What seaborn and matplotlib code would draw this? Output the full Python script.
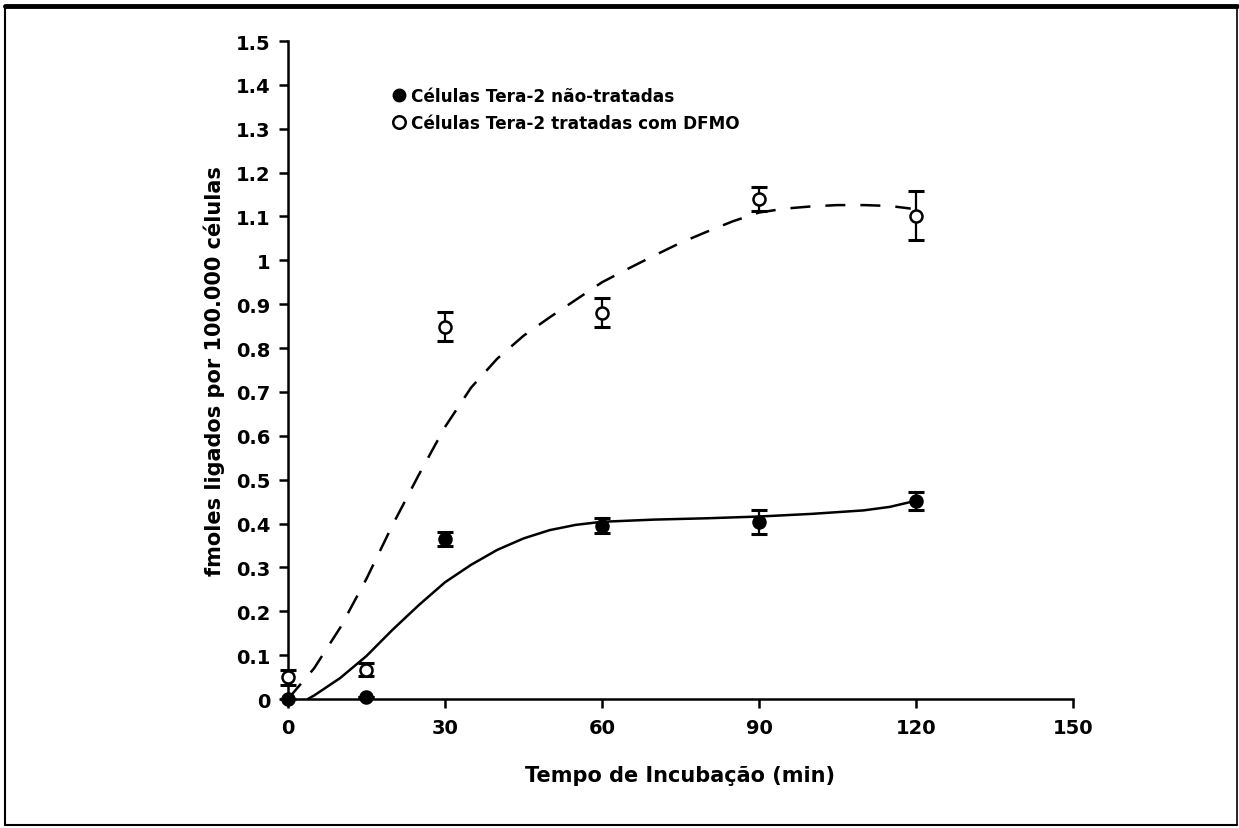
import numpy as np
import pandas as pd
import matplotlib
matplotlib.use("Agg")
import matplotlib.pyplot as plt
from matplotlib.lines import Line2D
import seaborn as sns

# measured points (min, fmoles / 100.000 cells)
tempos = [0, 15, 30, 60, 90, 120]
nao_tratadas = [0.0, 0.005, 0.365, 0.395, 0.403, 0.452]
nao_tratadas_err = [0.0, 0.0, 0.016, 0.017, 0.027, 0.02]
dfmo = [0.05, 0.067, 0.849, 0.881, 1.14, 1.102]
dfmo_err = [0.017, 0.015, 0.033, 0.033, 0.027, 0.055]

# fitted curves
curva_nt_x = [3.8, 5, 10, 15, 20, 25, 30, 35, 40, 45, 50, 55, 60, 70, 80, 90, 100, 110, 115, 120]
curva_nt_y = [0.0, 0.008, 0.048, 0.098, 0.158, 0.214, 0.266, 0.306, 0.34, 0.366, 0.385, 0.397,
              0.404, 0.409, 0.412, 0.416, 0.422, 0.43, 0.438, 0.452]
curva_dfmo_x = [0, 5, 10, 15, 20, 25, 30, 35, 40, 45, 50, 55, 60, 65, 70, 75, 80, 85, 90,
                95, 100, 105, 110, 115, 119]
curva_dfmo_y = [0.0, 0.07, 0.163, 0.274, 0.397, 0.511, 0.62, 0.71, 0.776, 0.828, 0.87, 0.91,
                0.95, 0.981, 1.011, 1.04, 1.065, 1.089, 1.109, 1.118, 1.123, 1.126, 1.126,
                1.124, 1.118]

x_ticks = [0, 30, 60, 90, 120, 150]
y_ticks = [0, 0.1, 0.2, 0.3, 0.4, 0.5, 0.6, 0.7, 0.8, 0.9, 1.0, 1.1, 1.2, 1.3, 1.4, 1.5]
y_tick_labels = ["0", "0.1", "0.2", "0.3", "0.4", "0.5", "0.6", "0.7", "0.8", "0.9",
                 "1", "1.1", "1.2", "1.3", "1.4", "1.5"]
legenda = ["Células Tera-2 não-tratadas", "Células Tera-2 tratadas com DFMO"]

sns.set_style("ticks")
plt.rcParams['font.family'] = ['DejaVu Sans']
plt.rcParams['font.weight'] = 'bold'
plt.rcParams['text.color'] = 'black'
plt.rcParams['axes.labelcolor'] = 'black'
plt.rcParams['xtick.color'] = 'black'
plt.rcParams['ytick.color'] = 'black'

fig = plt.figure(figsize=(12.39, 8.29), dpi=100)
ax = fig.add_axes([0.2324, 0.1556, 0.6336, 0.7937])

sns.lineplot(x=curva_nt_x, y=curva_nt_y, ax=ax, color="black", lw=1.8, sort=False)
sns.lineplot(x=curva_dfmo_x, y=curva_dfmo_y, ax=ax, color="black", lw=1.8, sort=False,
             linestyle=(0, (8, 6)))

ax.errorbar(tempos, nao_tratadas, yerr=nao_tratadas_err, fmt="none", ecolor="black",
            elinewidth=1.6, capsize=6, capthick=2.2, clip_on=False)
ax.errorbar(tempos, dfmo, yerr=dfmo_err, fmt="none", ecolor="black",
            elinewidth=1.6, capsize=6, capthick=2.2, clip_on=False)
sns.scatterplot(x=tempos, y=nao_tratadas, ax=ax, color="black", s=80, edgecolor="black",
                linewidth=1.5, zorder=5, clip_on=False)
sns.scatterplot(x=tempos, y=dfmo, ax=ax, color="white", s=75, edgecolor="black",
                linewidth=1.8, zorder=5, clip_on=False)

ax.set_xlim(0, 150)
ax.set_ylim(0, 1.5)
ax.set_xticks(x_ticks)
ax.set_xticklabels([str(t) for t in x_ticks])
ax.set_yticks(y_ticks)
ax.set_yticklabels(y_tick_labels)
ax.tick_params(axis="both", labelsize=14, width=1.8, length=6.5, color="black",
               labelcolor="black")
ax.tick_params(axis="y", pad=6)
ax.tick_params(axis="x", pad=7)
for lab in ax.get_xticklabels() + ax.get_yticklabels():
    lab.set_fontweight("bold")
sns.despine(ax=ax)
for sp in ["left", "bottom"]:
    ax.spines[sp].set_linewidth(1.8)
    ax.spines[sp].set_color("black")

ax.set_xlabel("Tempo de Incubação (min)", fontsize=15, fontweight="bold", labelpad=20)
ax.set_ylabel("fmoles ligados por 100.000 células", fontsize=15, fontweight="bold", labelpad=8)

handles = [
    Line2D([], [], marker="o", color="black", linestyle="none", markersize=9),
    Line2D([], [], marker="o", markerfacecolor="white", markeredgecolor="black",
           markeredgewidth=1.8, linestyle="none", markersize=9),
]
ax.legend(handles, legenda, loc="upper left", bbox_to_anchor=(0.122, 0.94), frameon=False,
          prop={"size": 12.2, "weight": "bold"}, handletextpad=0.2, labelspacing=0.5,
          handlelength=1.0, borderaxespad=0)

# scanned page border
fig.add_artist(Line2D([0.004, 0.998], [0.991, 0.991], color="black", lw=3.5))
fig.add_artist(Line2D([0.004, 0.004], [0.004, 0.991], color="black", lw=1.5))
fig.add_artist(Line2D([0.004, 0.998], [0.004, 0.004], color="black", lw=1.5))
fig.add_artist(Line2D([0.998, 0.998], [0.004, 0.991], color="black", lw=1.2))

fig.savefig("out.png", dpi=100)
